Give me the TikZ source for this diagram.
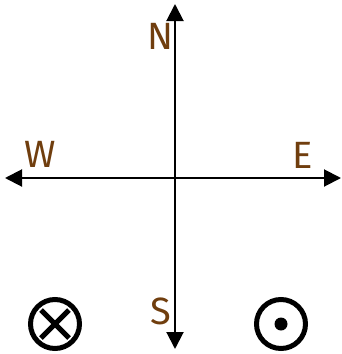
\documentclass[tikz,border=0pt]{standalone}
\usepackage{fontspec}
\setsansfont{Fira Sans}
\usetikzlibrary{arrows.meta}
\definecolor{dirbrown}{RGB}{112,62,14}
\tikzset{
  axis/.style={line width=2pt, -{Triangle[length=17pt,width=17pt]}},
  dirlabel/.style={text=dirbrown, font=\sffamily\fontsize{38}{38}\selectfont, inner sep=0pt},
  ring/.style={line width=5pt, draw=black, circle, minimum size=49pt, inner sep=0pt},
}
\begin{document}
\begin{tikzpicture}[x=1pt,y=-1pt]
\useasboundingbox (0,0) rectangle (341,354);
\coordinate (c) at (175,178);
\coordinate (n) at (175,4);
\coordinate (s) at (175,349);
\coordinate (w) at (5,178);
\coordinate (e) at (341,178);
\draw[axis] (c) -- (n);
\draw[axis] (c) -- (s);
\draw[axis] (c) -- (w);
\draw[axis] (c) -- (e);
\node[dirlabel] (lN) at (160,36) {N};
\node[dirlabel] (lW) at (40,154) {W};
\node[dirlabel] (lE) at (303,155) {E};
\node[dirlabel] (lS) at (161,311) {S};
\node[ring] (into) at (55,324) {};
\draw[line width=5pt] ([shift={(-14,-14)}]into.center) -- ([shift={(14,14)}]into.center);
\draw[line width=5pt] ([shift={(-14,14)}]into.center) -- ([shift={(14,-14)}]into.center);
\node[ring] (out) at (281,324) {};
\fill (out.center) circle (6.5);
\end{tikzpicture}
\end{document}
